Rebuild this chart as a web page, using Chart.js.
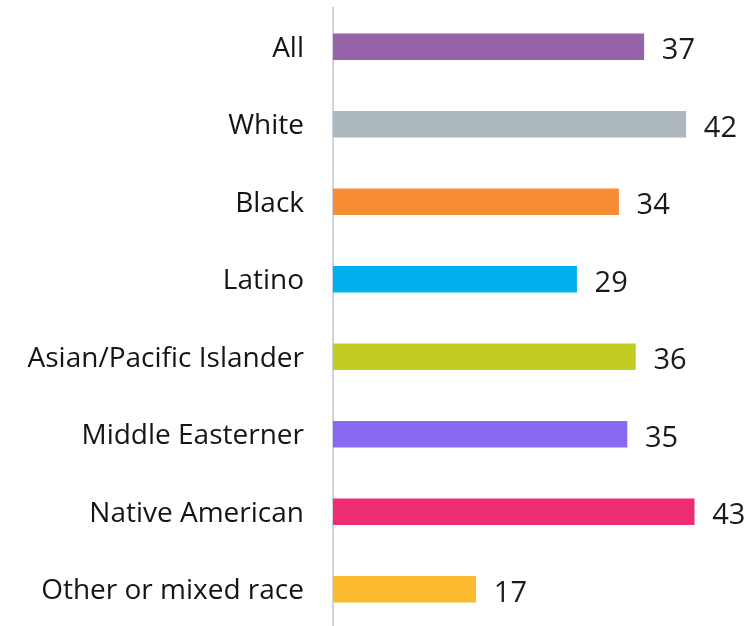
<!DOCTYPE html>
<html>
<head>
<meta charset="utf-8">
<script src="https://cdn.jsdelivr.net/npm/chart.js@4"></script>
<style>
html,body{margin:0;padding:0;background:#fff;overflow:hidden;width:749px;height:626px;}
#wrap{position:absolute;left:0;top:0;width:753px;height:630px;}
</style>
</head>
<body>
<div id="wrap"><canvas id="c" width="753" height="630"></canvas></div>
<script>
const categories = ["All","White","Black","Latino","Asian/Pacific Islander","Middle Easterner","Native American","Other or mixed race"];
const values = [37,42,34,29,36,35,43,17];
const colors = ["#9662a8","#adb8bf","#f68c33","#00b0ee","#c1cd23","#8a69f2","#ee2c74","#fbba2f"];

const valueLabels = {
  id:'valueLabels',
  afterDatasetsDraw(chart){
    const ctx = chart.ctx;
    const meta = chart.getDatasetMeta(0);
    ctx.save();
    ctx.font = '29px "Open Sans"';
    ctx.fillStyle = '#1a1a1a';
    ctx.textAlign = 'left';
    ctx.textBaseline = 'middle';
    meta.data.forEach((bar,i)=>{
      ctx.fillText(String(values[i]), bar.x + 18, bar.y + 4);
    });
    ctx.restore();
  }
};

new Chart(document.getElementById('c'), {
  type:'bar',
  data:{
    labels:categories,
    datasets:[{data:values, backgroundColor:colors, barThickness:26, borderWidth:0}]
  },
  options:{
    indexAxis:'y',
    responsive:false,
    animation:false,
    layout:{padding:{top:8,bottom:2,left:0,right:0}},
    plugins:{legend:{display:false},tooltip:{enabled:false}},
    scales:{
      x:{display:false,min:0,max:50},
      y:{
        afterFit(scale){scale.width = 333; scale.paddingTop = 0; scale.paddingBottom = 0;},
        grid:{display:false,drawTicks:false},
        border:{display:true,color:'#cdd4db',width:2},
        ticks:{font:{family:'"Open Sans"',size:28},color:'#151515',padding:29,labelOffset:2}
      }
    }
  },
  plugins:[valueLabels]
});
</script>
</body>
</html>
